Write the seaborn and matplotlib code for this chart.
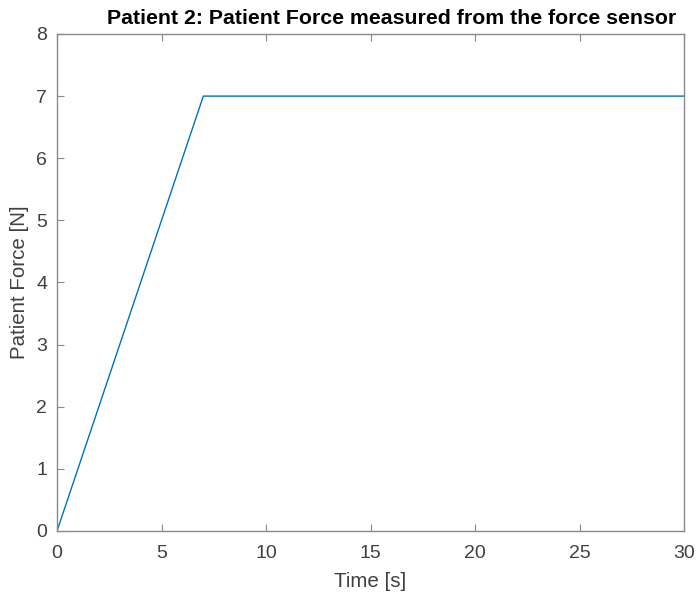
import pandas as pd
import seaborn as sns
import matplotlib
matplotlib.use("Agg")
import matplotlib.pyplot as plt

# dati
time_s = [0, 7, 30]
force_n = [0, 7, 7]
x_ticks = [0, 5, 10, 15, 20, 25, 30]
y_ticks = [0, 1, 2, 3, 4, 5, 6, 7, 8]

df = pd.DataFrame({"Time": time_s, "Force": force_n})

sns.set_style("ticks")
plt.rcParams['font.family'] = ['Liberation Sans', 'DejaVu Sans']
txt = "#404040"
edge = "#8a8a8a"

fig = plt.figure(figsize=(6.98, 5.93), dpi=100)
ax = fig.add_axes([0.0817, 0.1046, 0.8983, 0.8381])
sns.lineplot(data=df, x="Time", y="Force", ax=ax, color="#0072BD", linewidth=1.0)

ax.set_xlim(0, 30)
ax.set_ylim(0, 8)
ax.set_xticks(x_ticks)
ax.set_yticks(y_ticks)
ax.tick_params(direction="in", top=True, right=False, length=5, width=0.8,
               colors=edge, labelsize=14, labelcolor=txt)
ax.tick_params(axis="x", pad=10)
ax.tick_params(axis="y", pad=7)
for s in ax.spines.values():
    s.set_visible(True)
    s.set_color(edge)
    s.set_linewidth(1.0)

ax.set_title("Patient 2: Patient Force measured from the force sensor",
             fontsize=15.3, fontweight="bold", color="black", pad=7, x=0.534)
ax.set_xlabel("Time [s]", fontsize=14.8, color=txt, labelpad=7)
ax.set_ylabel("Patient Force [N]", fontsize=14.8, color=txt, labelpad=5)

fig.savefig("out.png", dpi=100)
